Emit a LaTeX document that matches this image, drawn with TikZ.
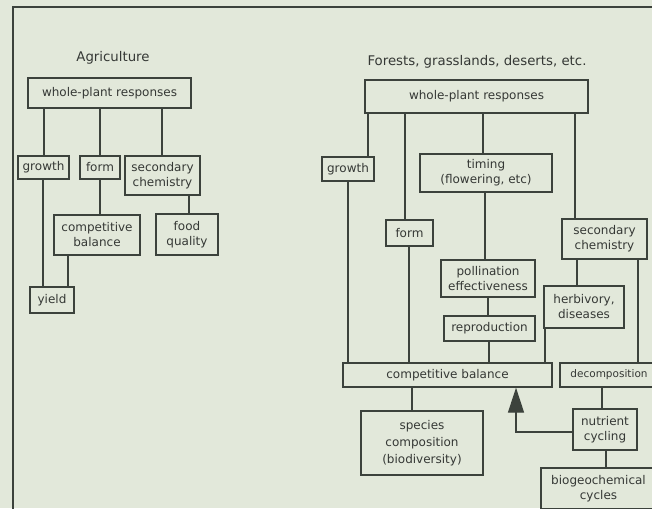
\documentclass[tikz,border=0pt]{standalone}
\usepackage{fontspec}
\setmainfont{DejaVu Sans}
\usetikzlibrary{arrows.meta}
\definecolor{bg}{HTML}{E2E8DA}
\definecolor{ink}{HTML}{3C423C}
\definecolor{txt}{HTML}{353835}
\tikzset{
  bx/.style={draw=ink, line width=1.3pt, fill=bg, inner sep=0pt, align=center,
    text=txt, font=\fontsize{12}{15}\selectfont},
  ttl/.style={text=txt, font=\fontsize{13.3}{15}\selectfont, inner sep=0pt},
  ln/.style={draw=ink, line width=1.3pt},
}
\newcommand\bx[6]{\node[bx, minimum width={(#4-#2)*1pt}, minimum height={(#5-#3)*1pt}] (#1) at ({(#2+#4)/2},{(#3+#5)/2}) {#6};}
\begin{document}
\begin{tikzpicture}[x=1pt,y=-1pt]
\clip (0,0) rectangle (652,508);
\fill[bg] (0,0) rectangle (652,508);
\draw[ink, line width=1.5pt] (13,7) rectangle (670,530);
% Agriculture
\node[ttl] (tA) at (113,58) {Agriculture};
\bx{Awpr}{28}{78}{191}{108}{whole-plant responses}
\bx{Agrowth}{18}{156}{69}{179}{growth}
\bx{Aform}{80}{156}{120}{179}{form}
\bx{Asec}{125}{156}{200}{195}{secondary\\chemistry}
\bx{Acomp}{54}{215}{140}{255}{competitive\\balance}
\bx{Afood}{156}{214}{218}{255}{food\\quality}
\bx{Ayield}{30}{287}{74}{313}{yield}
\draw[ln] (44,0 |- Awpr.south) -- (44,0 |- Agrowth.north);
\draw[ln] (100,0 |- Awpr.south) -- (100,0 |- Aform.north);
\draw[ln] (162,0 |- Awpr.south) -- (162,0 |- Asec.north);
\draw[ln] (43,0 |- Agrowth.south) -- (43,0 |- Ayield.north);
\draw[ln] (100,0 |- Aform.south) -- (100,0 |- Acomp.north);
\draw[ln] (189,0 |- Asec.south) -- (189,0 |- Afood.north);
\draw[ln] (68,0 |- Acomp.south) -- (68,0 |- Ayield.north);
% Forests
\node[ttl] (tF) at (477,62) {Forests, grasslands, deserts, etc.};
\bx{Fwpr}{365}{80}{588}{113}{whole-plant responses}
\bx{Fgrowth}{322}{157}{374}{181}{growth}
\bx{Ftiming}{420}{154}{552}{192}{timing\\(flowering, etc)}
\bx{Fform}{386}{220}{433}{246}{form}
\bx{Fsec}{562}{219}{647}{259}{secondary\\chemistry}
\bx{Fpoll}{441}{260}{535}{297}{pollination\\effectiveness}
\bx{Fherb}{544}{286}{624}{328}{herbivory,\\diseases}
\bx{Frep}{444}{316}{535}{341}{reproduction}
\bx{Fcomp}{343}{363}{552}{387}{competitive balance}
\node[bx, font=\fontsize{10.5}{14}\selectfont, minimum width=98pt, minimum height=24pt] (Fdec) at (609,375) {decomposition};
\node[bx, font=\fontsize{12}{17}\selectfont, minimum width=122pt, minimum height=64pt] (Fspec) at (422,443) {species\\composition\\(biodiversity)};
\bx{Fnut}{573}{409}{637}{450}{nutrient\\cycling}
\bx{Fbio}{541}{468}{656}{509}{biogeochemical\\cycles}
\draw[ln] (368,0 |- Fwpr.south) -- (368,0 |- Fgrowth.north);
\draw[ln] (405,0 |- Fwpr.south) -- (405,0 |- Fform.north);
\draw[ln] (483,0 |- Fwpr.south) -- (483,0 |- Ftiming.north);
\draw[ln] (575,0 |- Fwpr.south) -- (575,0 |- Fsec.north);
\draw[ln] (485,0 |- Ftiming.south) -- (485,0 |- Fpoll.north);
\draw[ln] (348,0 |- Fgrowth.south) -- (348,0 |- Fcomp.north);
\draw[ln] (409,0 |- Fform.south) -- (409,0 |- Fcomp.north);
\draw[ln] (488,0 |- Fpoll.south) -- (488,0 |- Frep.north);
\draw[ln] (489,0 |- Frep.south) -- (489,0 |- Fcomp.north);
\draw[ln] (577,0 |- Fsec.south) -- (577,0 |- Fherb.north);
\draw[ln] (545,0 |- Fherb.south) -- (545,0 |- Fcomp.north);
\draw[ln] (638,0 |- Fsec.south) -- (638,0 |- Fdec.north);
\draw[ln] (412,0 |- Fcomp.south) -- (412,0 |- Fspec.north);
\draw[ln] (602,0 |- Fdec.south) -- (602,0 |- Fnut.north);
\draw[ln] (606,0 |- Fnut.south) -- (606,0 |- Fbio.north);
\coordinate (bend) at (516,432);
\draw[ln, -{Triangle[length=25pt,width=16pt]}] (Fnut.west |- bend) -- (bend) -- (bend |- Fcomp.south);
\end{tikzpicture}
\end{document}
